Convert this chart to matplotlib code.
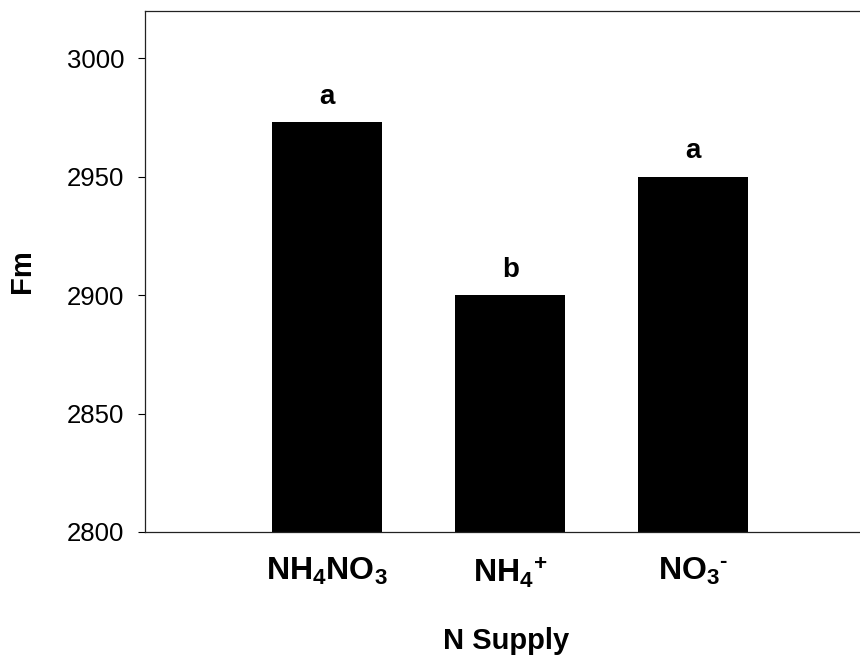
import matplotlib
matplotlib.use("Agg")
import matplotlib.pyplot as plt

# データ
supply = [r"$\mathbf{NH_4NO_3}$", r"$\mathbf{NH_4}{}^{\mathbf{+}}$", r"$\mathbf{NO_3}{}^{\text{-}}$"]
fm_values = [2973, 2900, 2950]
letters = ["a", "b", "a"]
y_ticks = [2800, 2850, 2900, 2950, 3000]

plt.rcParams["font.family"] = ["Liberation Sans", "DejaVu Sans"]
plt.rcParams["mathtext.fontset"] = "custom"
plt.rcParams["mathtext.rm"] = "Liberation Sans:bold"
plt.rcParams["mathtext.bf"] = "Liberation Sans:bold"
plt.rcParams["mathtext.it"] = "Liberation Sans:italic"

fig = plt.figure(figsize=(8.6, 6.57), dpi=100)
ax = fig.add_axes([0.1686, 0.1903, 0.84, 0.793])

x = list(range(len(fm_values)))
ax.bar(x, fm_values, width=0.6, color="black")

for xi, v, lab in zip(x, fm_values, letters):
    ax.annotate(lab, (xi, v), xytext=(0, 9), textcoords="offset points",
                ha="center", va="bottom", fontsize=20, fontweight="bold")

ax.set_ylim(2800, 3020)
ax.set_xlim(-0.997, 2.953)
ax.set_yticks(y_ticks)
ax.set_xticks(x)
ax.set_xticklabels(supply, fontsize=23)
ax.tick_params(axis="y", labelsize=18.5, direction="out", length=5, width=0.8, pad=10)
ax.tick_params(axis="x", length=0, pad=17)

ax.spines["right"].set_visible(False)
for s in ["left", "bottom", "top"]:
    ax.spines[s].set_linewidth(0.9)
    ax.spines[s].set_color("#222222")

ax.set_ylabel("Fm", fontsize=21, fontweight="bold", labelpad=22)
ax.set_xlabel("N Supply", fontsize=21, fontweight="bold", labelpad=27)

fig.savefig("out.png", dpi=100)
